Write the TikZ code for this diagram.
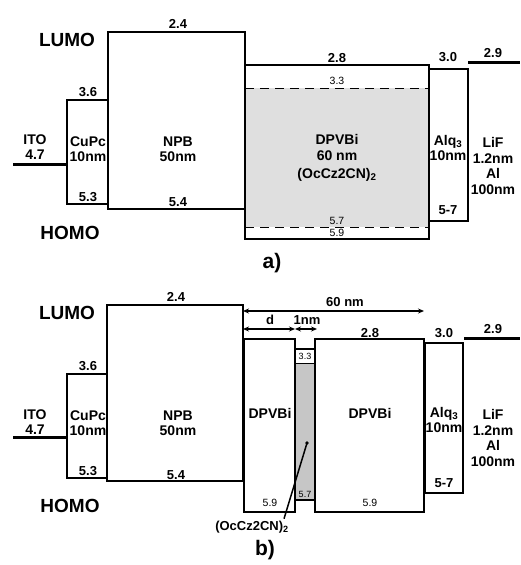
\documentclass[tikz,border=0pt]{standalone}
\usepackage{fontspec}
\setmainfont{Liberation Sans}
\usetikzlibrary{arrows.meta}
\begin{document}
\begin{tikzpicture}[x=1pt,y=-1pt,
  box/.style={draw=black, line width=1.1pt},
  bar/.style={line width=3pt},
  big/.style={font=\fontsize{14}{15.5}\selectfont\bfseries, align=center, inner sep=0pt},
  num/.style={font=\fontsize{13}{13}\selectfont\bfseries, inner sep=0pt},
  small/.style={font=\fontsize{10.5}{10.5}\selectfont, inner sep=0pt},
  tiny/.style={font=\fontsize{9}{9}\selectfont, inner sep=0pt},
  level/.style={font=\fontsize{19}{19}\selectfont\bfseries, inner sep=0pt},
  panel/.style={font=\fontsize{21}{21}\selectfont\bfseries, inner sep=0pt},
  dimline/.style={line width=1.3pt, {Stealth[length=6pt,width=5pt]}-{Stealth[length=6pt,width=5pt]}},
  dashline/.style={line width=1pt, dash pattern=on 9pt off 6pt},
]
\useasboundingbox (0,0) rectangle (520,565);
\fill[white] (0,0) rectangle (520,565);

% ================= panel a =================
\fill[gray!25] (245,88) rectangle (429,227);
\draw[box] (67,100) rectangle (108,204);
\draw[box] (108,32) rectangle (245,209);
\draw[box] (245,65) rectangle (429,239);
\draw[line width=1.8pt] (245,239) -- (429,239);
\draw[dashline] (245,88) -- (429,88);
\draw[dashline] (245,227) -- (429,227);
\draw[box] (429,69) rectangle (468,221);
\draw[bar] (13,164) -- (67,164);
\draw[bar] (468,62) -- (520,62);

\node[level] (lumoA) at (67,40) {LUMO};
\node[level] (homoA) at (70,233) {HOMO};
\node[big] (itoA) at (35,147) {ITO\\4.7};
\node[big] (cupcA) at (88,149) {CuPc\\10nm};
\node[big] (npbA) at (178,149) {NPB\\50nm};
\node[big] (dpvbiA) at (337,158) {DPVBi\\60 nm\\[3pt](OcCz2CN)\textsubscript{2}};
\node[big] (alqA) at (448,148) {Alq\textsubscript{3}\\10nm};
\node[big] (lifA) at (493,166) {LiF\\1.2nm\\Al\\100nm};
\node[num] (a24) at (178,24) {2.4};
\node[num] (a36) at (88,92) {3.6};
\node[num] (a53) at (88,197) {5.3};
\node[num] (a54) at (178,202) {5.4};
\node[num] (a28) at (337,58) {2.8};
\node[small] (a33) at (337,81) {3.3};
\node[small] (a57) at (337,221) {5.7};
\node[small] (a59) at (337,233) {5.9};
\node[num] (a30) at (448,57) {3.0};
\node[num] (a57b) at (448,210) {5-7};
\node[num] (a29) at (493,53) {2.9};
\node[panel] (labA) at (272,263) {a)};

% ================= panel b =================
\draw[box] (67,374) rectangle (107,478);
\draw[box] (107,305) rectangle (243,481);
\draw[box] (244,339) rectangle (295,512);
\fill[gray!45] (295,363) rectangle (315,500);
\draw[box] (295,349) rectangle (315,500);
\draw[line width=0.8pt] (295,363) -- (315,363);
\draw[box] (315,339) rectangle (424,512);
\draw[box] (425,343) rectangle (463,493);
\draw[bar] (13,437) -- (67,437);
\draw[bar] (464,338) -- (520,338);

\coordinate (npbR) at (243,311);
\coordinate (dpR) at (424,311);
\coordinate (dL) at (243,329);
\coordinate (dM) at (295,329);
\coordinate (dE) at (317,329);
\draw[dimline] (npbR) -- (dpR);
\draw[dimline] (dL) -- (dM);
\draw[dimline] (dM) -- (dE);
\node[num] (b60) at (345,302) {60 nm};
\node[num] (bd) at (270,320) {d};
\node[num] (b1nm) at (307,320) {1nm};

\node[level] (lumoB) at (67,313) {LUMO};
\node[level] (homoB) at (70,506) {HOMO};
\node[big] (itoB) at (35,422) {ITO\\4.7};
\node[big] (cupcB) at (88,423) {CuPc\\10nm};
\node[big] (npbB) at (178,423) {NPB\\50nm};
\node[big] (dpvbiB1) at (270,413) {DPVBi};
\node[big] (dpvbiB2) at (370,413) {DPVBi};
\node[big] (alqB) at (444,420) {Alq\textsubscript{3}\\10nm};
\node[big] (lifB) at (493,438) {LiF\\1.2nm\\Al\\100nm};
\node[num] (b24) at (176,297) {2.4};
\node[num] (b36) at (88,366) {3.6};
\node[num] (b53) at (88,471) {5.3};
\node[num] (b54) at (176,475) {5.4};
\node[num] (b28) at (370,333) {2.8};
\node[num] (b30) at (444,333) {3.0};
\node[num] (b29) at (493,329) {2.9};
\node[num] (b57b) at (444,483) {5-7};
\node[tiny] (b33) at (305,356) {3.3};
\node[tiny] (b57) at (305,494) {5.7};
\node[small] (b59a) at (270,503) {5.9};
\node[small] (b59b) at (370,503) {5.9};

\node[num] (occz) at (252,527) {(OcCz2CN)\textsubscript{2}};
\coordinate (dot) at (307,443);
\fill (dot) circle (1.8pt);
\draw[line width=1.5pt] (occz.north -| 284,0) ++(0,-2) -- (dot);
\node[panel] (labB) at (265,550) {b)};
\end{tikzpicture}
\end{document}
